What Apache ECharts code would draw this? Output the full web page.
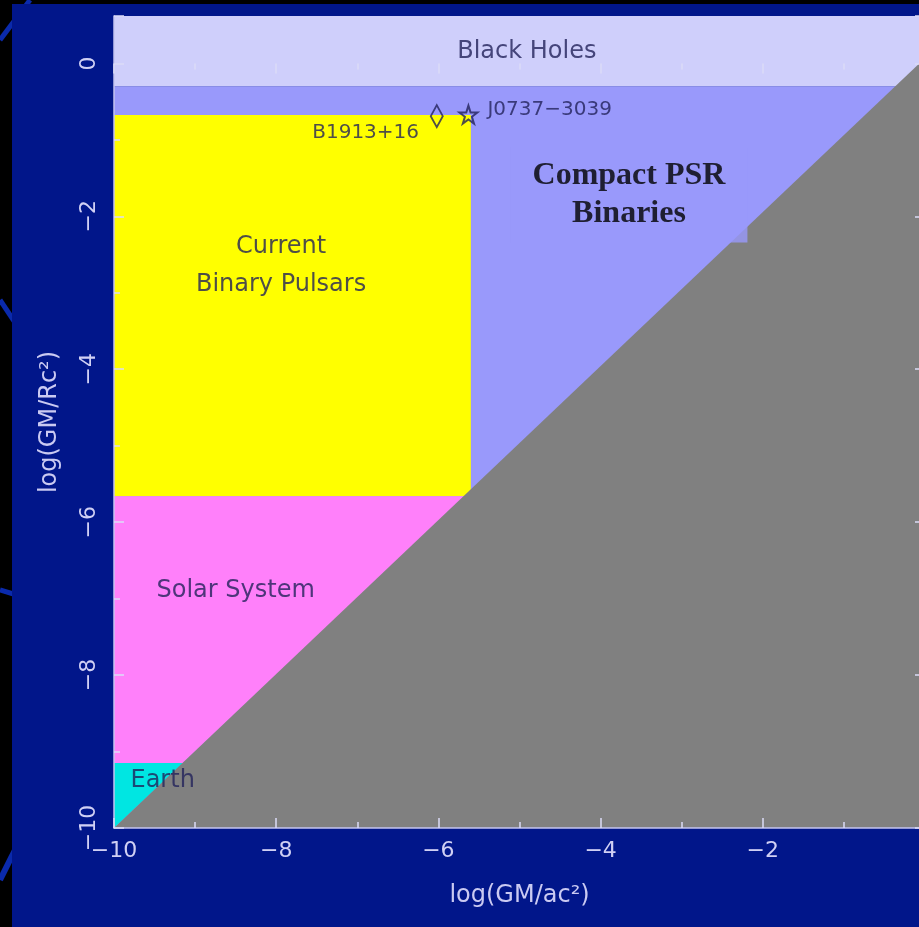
<!DOCTYPE html>
<html>
<head>
<meta charset="utf-8">
<script src="https://cdn.jsdelivr.net/npm/echarts@6/dist/echarts.min.js"></script>
<style>
  html, body { margin: 0; padding: 0; background: #000; }
  #chart { width: 919px; height: 927px; }
</style>
</head>
<body>
<div id="chart"></div>
<script>
// regions of the (log GM/ac^2, log GM/Rc^2) plane, as polygons
const blackHoles     = [[-10, -0.3], [0, -0.3], [0, 0.62], [-10, 0.62]];
const compactPSR     = [[-10, -10], [0, -10], [0, -0.3], [-10, -0.3]];
const binaryPulsars  = [[-10, -5.66], [-5.6, -5.66], [-5.6, -0.675], [-10, -0.675]];
const solarSystem    = [[-10, -9.15], [-9.15, -9.15], [-5.66, -5.66], [-10, -5.66]];
const earth          = [[-10, -10], [-9.15, -9.15], [-10, -9.15]];
const excluded       = [[-10, -10], [0, 0.07], [0, -10]];

// pulsars
const pulsarNames  = ['B1913+16', 'J0737\u22123039'];
const pulsarPoints = [[-6.02, -0.69], [-5.63, -0.67]];

// region labels
const regionLabels = ['Black Holes', 'Current\nBinary Pulsars', 'Solar System', 'Earth'];
const regionLabelPoints = [[-4.91, 0.15], [-7.94, -2.65], [-8.5, -6.9], [-9.4, -9.385]];
const boxLabel = 'Compact PSR\nBinaries';
const boxLabelPoint = [-3.65, -1.72];

const X_MIN = -10, X_MAX = 0, Y_MIN = -10, Y_MAX = 0.62;

const TICK_COLOR = '#dcdcf8';
const TEXT_DARK = '#22225a';

function polygonSeries(name, points, color) {
  return {
    type: 'custom',
    name: name,
    silent: true,
    coordinateSystem: 'cartesian2d',
    data: points,
    renderItem: function (params, api) {
      if (params.dataIndex !== 0) return;
      return {
        type: 'polygon',
        shape: { points: points.map(function (p) { return api.coord(p); }) },
        style: { fill: color }
      };
    }
  };
}

function minus(v) { return String(v).replace('-', '\u2212'); }

const axisCommon = {
  type: 'value',
  interval: 2,
  z: 10,
  splitLine: { show: false },
  axisLine: { show: true, onZero: false, lineStyle: { color: '#c4c4f0', width: 1.5 } },
  axisTick: { show: true, inside: true, length: 10, lineStyle: { color: TICK_COLOR, width: 1.5 } },
  minorTick: { show: true, splitNumber: 2, length: 6, lineStyle: { color: TICK_COLOR, width: 1.5 } }
};

const CHART = echarts.init(document.getElementById('chart'));

CHART.setOption({
  backgroundColor: '#000',
  animation: false,
  graphic: [
    { type: 'line', z: -20, shape: { x1: 0, y1: 40, x2: 30, y2: 0 }, style: { stroke: '#0a2aac', lineWidth: 5 } },
    { type: 'line', z: -20, shape: { x1: 0, y1: 300, x2: 20, y2: 330 }, style: { stroke: '#0a2aac', lineWidth: 5 } },
    { type: 'line', z: -20, shape: { x1: 0, y1: 590, x2: 20, y2: 596 }, style: { stroke: '#0a2aac', lineWidth: 5 } },
    { type: 'line', z: -20, shape: { x1: 0, y1: 880, x2: 20, y2: 840 }, style: { stroke: '#0a2aac', lineWidth: 6 } },
    { type: 'rect', z: -10, shape: { x: 12, y: 4, width: 907, height: 923 }, style: { fill: '#01168a' } }
  ],
  grid: { left: 114, top: 16, right: -6, bottom: 99, outerBoundsMode: 'none' },
  xAxis: [
    Object.assign({}, axisCommon, {
      position: 'bottom', min: X_MIN, max: X_MAX,
      name: 'log(GM/ac\u00B2)', nameLocation: 'middle', nameGap: 56,
      nameTextStyle: { color: '#cacaf2', fontSize: 24, fontFamily: 'DejaVu Sans' },
      axisLabel: { color: '#d0d0f4', fontSize: 22, fontFamily: 'DejaVu Sans', margin: 12, formatter: minus }
    }),
    Object.assign({}, axisCommon, {
      position: 'top', min: X_MIN, max: X_MAX,
      axisLine: { show: false }, axisLabel: { show: false }
    })
  ],
  yAxis: [
    Object.assign({}, axisCommon, {
      position: 'left', min: Y_MIN, max: Y_MAX,
      name: 'log(GM/Rc\u00B2)', nameLocation: 'middle', nameGap: 52, nameRotate: 90,
      nameTextStyle: { color: '#cacaf2', fontSize: 24, fontFamily: 'DejaVu Sans' },
      axisLabel: { color: '#d0d0f4', fontSize: 22, fontFamily: 'DejaVu Sans', margin: 14, rotate: 90,
        showMaxLabel: false, formatter: minus }
    }),
    Object.assign({}, axisCommon, {
      position: 'right', min: Y_MIN, max: Y_MAX,
      axisLine: { show: false }, axisLabel: { show: false }
    })
  ],
  series: [
    polygonSeries('Compact PSR Binaries', compactPSR, '#9999fb'),
    polygonSeries('Black Holes', blackHoles, '#cfcffb'),
    polygonSeries('Current Binary Pulsars', binaryPulsars, '#ffff00'),
    polygonSeries('Solar System', solarSystem, '#ff80fa'),
    polygonSeries('Earth', earth, '#00e6e2'),
    polygonSeries('Excluded', excluded, '#808080'),
    {
      type: 'scatter',
      silent: true,
      itemStyle: { color: 'rgba(0,0,0,0)', borderColor: '#22225a', borderWidth: 2 },
      label: { show: true, formatter: '{b}', color: TEXT_DARK, fontSize: 20, fontFamily: 'DejaVu Sans' },
      data: [
        {
          name: pulsarNames[0], value: pulsarPoints[0],
          symbol: 'path://M5,0 L10,10 L5,20 L0,10 Z', symbolSize: [12, 22],
          label: { position: 'left', offset: [-6, 17] }
        },
        {
          name: pulsarNames[1], value: pulsarPoints[1],
          symbol: 'path://M10,0 L12.4,7.2 L20,7.3 L13.9,11.8 L16.2,19 L10,14.6 L3.8,19 L6.1,11.8 L0,7.3 L7.6,7.2 Z',
          symbolSize: 18,
          label: { position: 'right', offset: [4, -5] }
        }
      ]
    },
    {
      type: 'scatter',
      silent: true,
      symbolSize: 0,
      label: {
        show: true, position: 'inside', formatter: '{b}',
        color: TEXT_DARK, fontSize: 24, lineHeight: 38, fontFamily: 'DejaVu Sans'
      },
      data: regionLabels.map(function (t, i) { return { name: t, value: regionLabelPoints[i] }; })
    },
    {
      type: 'scatter',
      silent: true,
      symbolSize: 0,
      label: {
        show: true, position: 'inside', formatter: '{b}',
        color: '#000', fontSize: 32, fontWeight: 'bold', lineHeight: 38,
        fontFamily: 'Liberation Serif', backgroundColor: '#9999fb', padding: [10, 22, 9, 22]
      },
      data: [{ name: boxLabel, value: boxLabelPoint }]
    }
  ]
});
</script>
</body>
</html>
